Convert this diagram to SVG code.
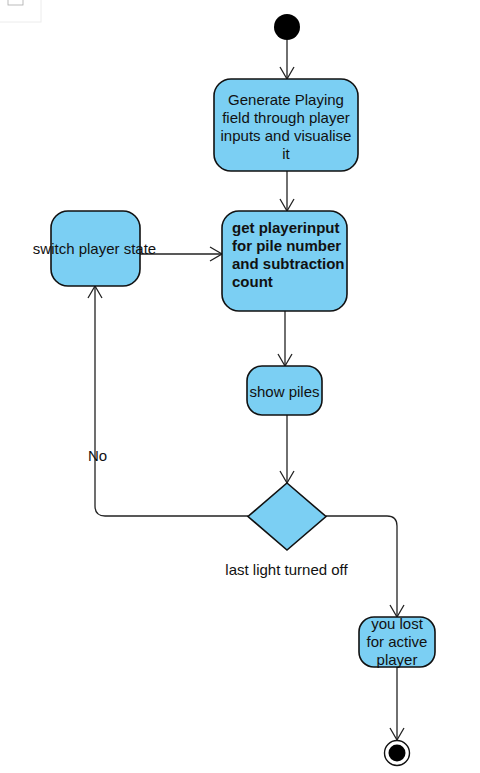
<svg xmlns="http://www.w3.org/2000/svg" width="480" height="773" viewBox="0 0 480 773">
<defs>
<marker id="arr" markerWidth="16" markerHeight="16" refX="13" refY="8" orient="auto" markerUnits="userSpaceOnUse">
<path d="M1,1 L13,8 L1,15" fill="none" stroke="#222" stroke-width="1.3"/>
</marker>
</defs>
<style>
.node{fill:#7BCFF3;stroke:#111;stroke-width:1.6}
.t{font-family:"Liberation Sans",Arial,sans-serif;font-size:15px;fill:#111}
.c{text-anchor:middle}
.b{font-weight:bold}
.edge{fill:none;stroke:#222;stroke-width:1.3}
</style>
<rect width="480" height="773" fill="#fff"/>
<g id="corner">
<rect x="-1" y="-1" width="42" height="23" fill="#fff" stroke="#ececec"/>
<rect x="8" y="-2" width="15" height="7" fill="none" stroke="#aaa" stroke-width="0.8"/>
</g>
<g id="connectors">
<line class="edge" x1="287" y1="40" x2="287" y2="79" marker-end="url(#arr)"/>
<line class="edge" x1="287" y1="171" x2="287" y2="211" marker-end="url(#arr)"/>
<line class="edge" x1="140" y1="254" x2="222" y2="254" marker-end="url(#arr)"/>
<line class="edge" x1="285" y1="311" x2="285" y2="366" marker-end="url(#arr)"/>
<line class="edge" x1="287" y1="415" x2="287" y2="483" marker-end="url(#arr)"/>
<path class="edge" d="M248,516 L105,516 Q95,516 95,506 L95,286" marker-end="url(#arr)"/>
<path class="edge" d="M326,516 L387,516 Q397,516 397,526 L397,617" marker-end="url(#arr)"/>
<line class="edge" x1="397" y1="667" x2="397" y2="740" marker-end="url(#arr)"/>
</g>
<g id="start"><circle cx="287" cy="27" r="13" fill="#000"/></g>
<g id="generate">
<rect class="node" x="214" y="79" width="144" height="92" rx="17"/>
<text class="t c" x="286" y="105">Generate Playing</text>
<text class="t c" x="286" y="123">field through player</text>
<text class="t c" x="286" y="141">inputs and visualise</text>
<text class="t c" x="286" y="159">it</text>
</g>
<g id="getinput">
<rect class="node" x="222" y="211" width="125" height="100" rx="17"/>
<text class="t b" x="232" y="233">get playerinput</text>
<text class="t b" x="232" y="251">for pile number</text>
<text class="t b" x="232" y="269">and subtraction</text>
<text class="t b" x="232" y="287">count</text>
</g>
<g id="switch">
<rect class="node" x="51" y="211" width="89" height="75" rx="17"/>
<text class="t c" x="94.5" y="254">switch player state</text>
</g>
<g id="showpiles">
<rect class="node" x="247" y="366" width="75" height="49" rx="15"/>
<text class="t c" x="284.5" y="397">show piles</text>
</g>
<g id="decision">
<polygon class="node" points="287,483 326,516.5 287,550 248,516.5"/>
<text class="t c" x="286.5" y="575">last light turned off</text>
</g>
<g id="nolabel"><text class="t" x="88" y="461">No</text></g>
<g id="youlost">
<rect class="node" x="359" y="617" width="76" height="50" rx="15"/>
<text class="t c" x="397" y="629">you lost</text>
<text class="t c" x="397" y="647">for active</text>
<text class="t c" x="397" y="665">player</text>
</g>
<g id="end">
<circle cx="397" cy="753" r="12.5" fill="#fff" stroke="#111" stroke-width="1.4"/>
<circle cx="397" cy="753" r="8.5" fill="#000"/>
</g>
</svg>
